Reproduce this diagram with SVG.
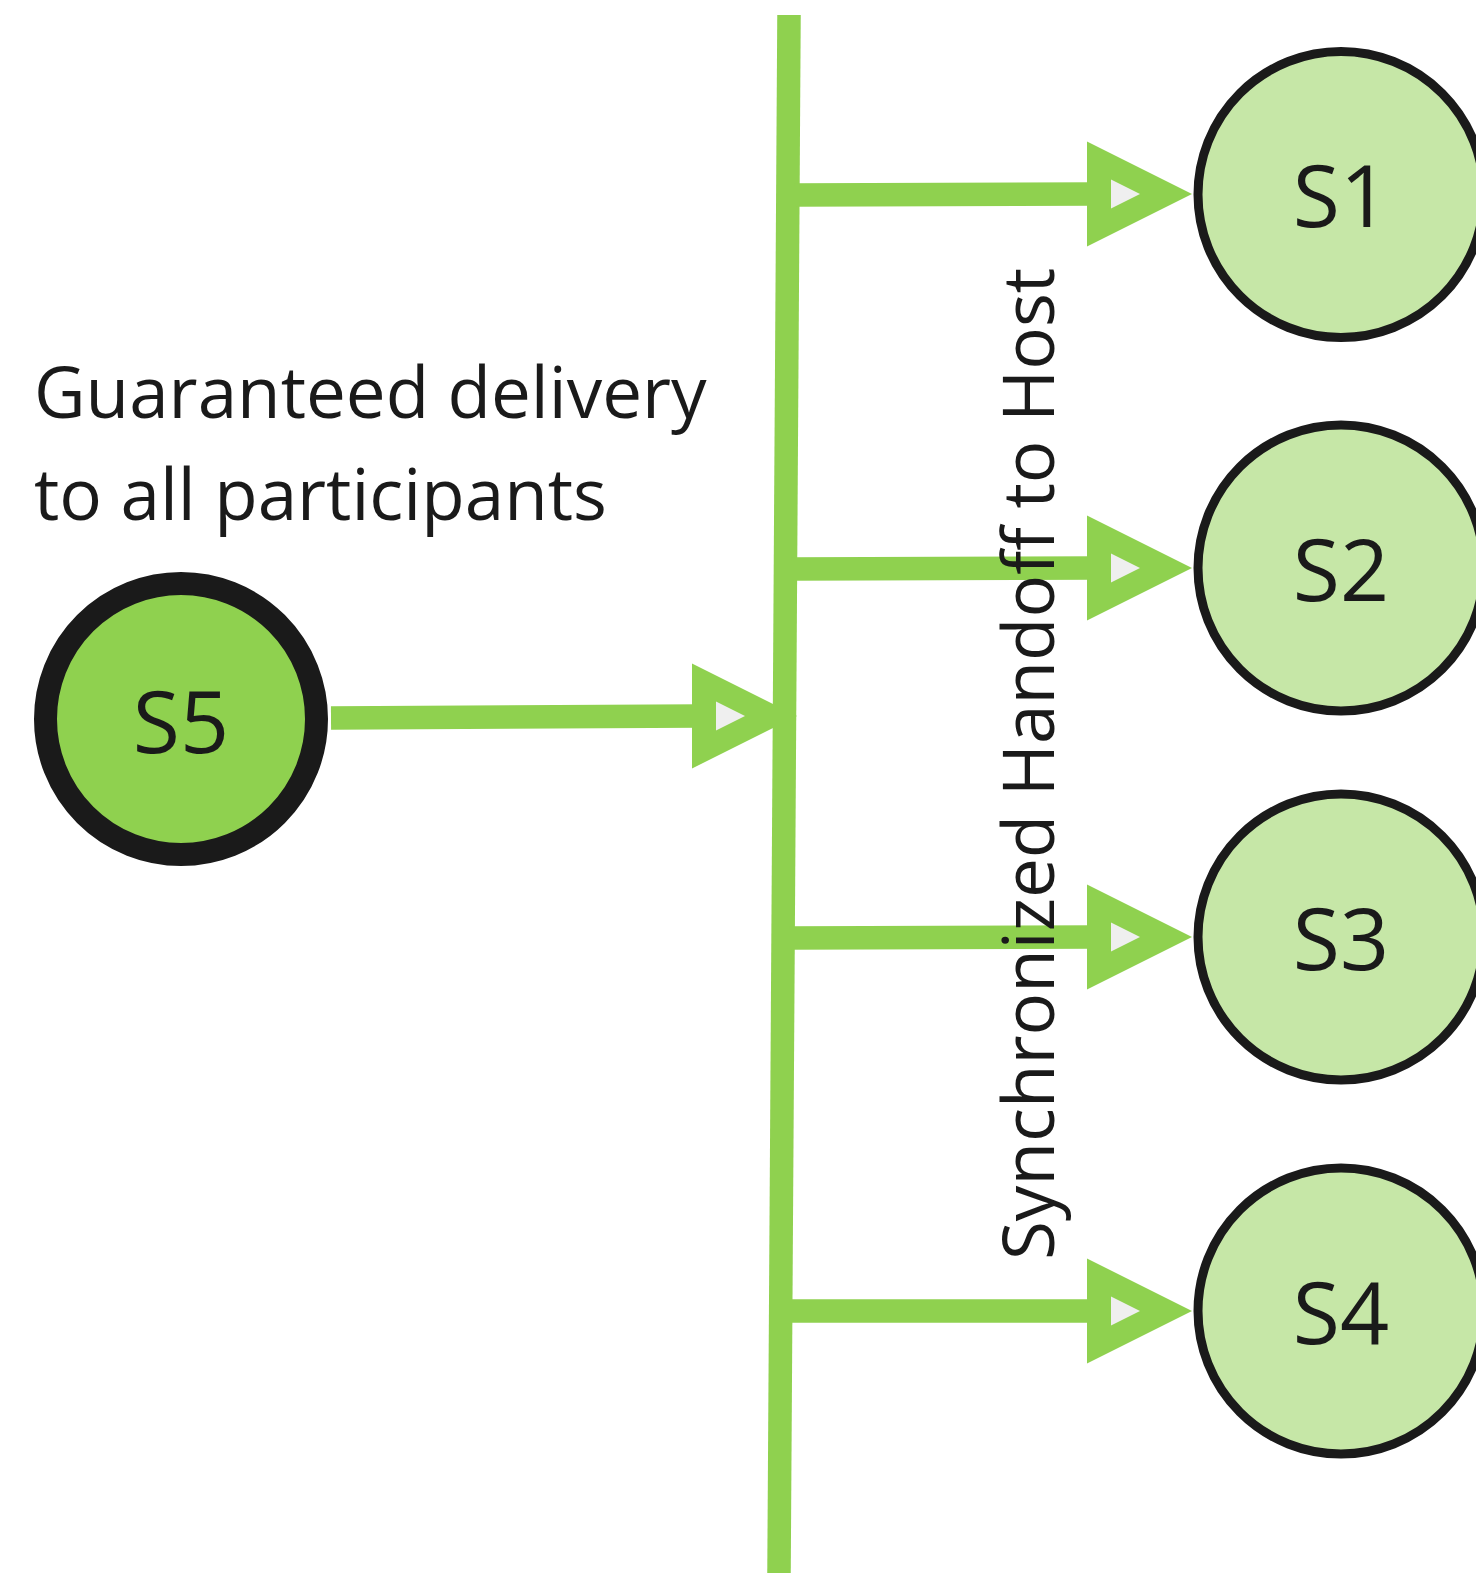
<svg xmlns="http://www.w3.org/2000/svg" xmlns:xlink="http://www.w3.org/1999/xlink" width="1476" height="1573" viewBox="0 0 1476 1573">
  <style>
    .line { stroke: #8fd14f; stroke-width: 23.5; fill: none; stroke-linecap: butt; }
    .label { font-family: "Open Sans", "Noto Sans", sans-serif; fill: #1a1a1a; }
    .node-text { font-family: "Open Sans", "Noto Sans", sans-serif; font-size: 86px; fill: #1a1a1a; text-anchor: middle; }
    .light { fill: #c6e7a7; stroke: #1a1a1a; stroke-width: 9; }
    .dark { fill: #8fd14f; stroke: #1a1a1a; stroke-width: 23; }
  </style>
  <defs>
    <g id="arrowhead">
      <polygon points="-105,-52.5 0,0 -105,52.5" fill="#8fd14f"/>
      <polygon points="-81,-14.5 -52,0 -81,14.5" fill="#efefef"/>
    </g>
  </defs>
  <rect width="1476" height="1573" fill="#ffffff"/>
  <g id="connectors">
    <line class="line" x1="789" y1="15" x2="779" y2="1573"/>
    <line class="line" x1="331" y1="718" x2="700" y2="716"/>
    <use xlink:href="#arrowhead" transform="translate(797,716)"/>
    <line class="line" x1="795" y1="195" x2="1095" y2="194"/>
    <use xlink:href="#arrowhead" transform="translate(1192,194)"/>
    <line class="line" x1="792" y1="569" x2="1095" y2="568"/>
    <use xlink:href="#arrowhead" transform="translate(1192,568)"/>
    <line class="line" x1="790" y1="938" x2="1095" y2="937"/>
    <use xlink:href="#arrowhead" transform="translate(1192,937)"/>
    <line class="line" x1="788" y1="1311" x2="1095" y2="1311"/>
    <use xlink:href="#arrowhead" transform="translate(1192,1311)"/>
  </g>
  <g id="label-guaranteed">
    <text class="label" font-size="71" x="34" y="418">Guaranteed delivery</text>
    <text class="label" font-size="71" x="34" y="520">to all participants</text>
  </g>
  <g id="label-handoff">
    <text class="label" font-size="71" text-anchor="middle" transform="translate(1054,764) rotate(-90)">Synchronized Handoff to Host</text>
  </g>
  <g id="node-s5">
    <circle class="dark" cx="181" cy="719" r="135.5"/>
    <text class="node-text" x="181" y="753">S5</text>
  </g>
  <g id="node-s1">
    <circle class="light" cx="1341" cy="194.5" r="143"/>
    <text class="node-text" x="1341" y="227">S1</text>
  </g>
  <g id="node-s2">
    <circle class="light" cx="1341" cy="568" r="143"/>
    <text class="node-text" x="1341" y="601">S2</text>
  </g>
  <g id="node-s3">
    <circle class="light" cx="1341" cy="937" r="143"/>
    <text class="node-text" x="1341" y="970">S3</text>
  </g>
  <g id="node-s4">
    <circle class="light" cx="1341" cy="1311" r="143"/>
    <text class="node-text" x="1341" y="1344">S4</text>
  </g>
</svg>
